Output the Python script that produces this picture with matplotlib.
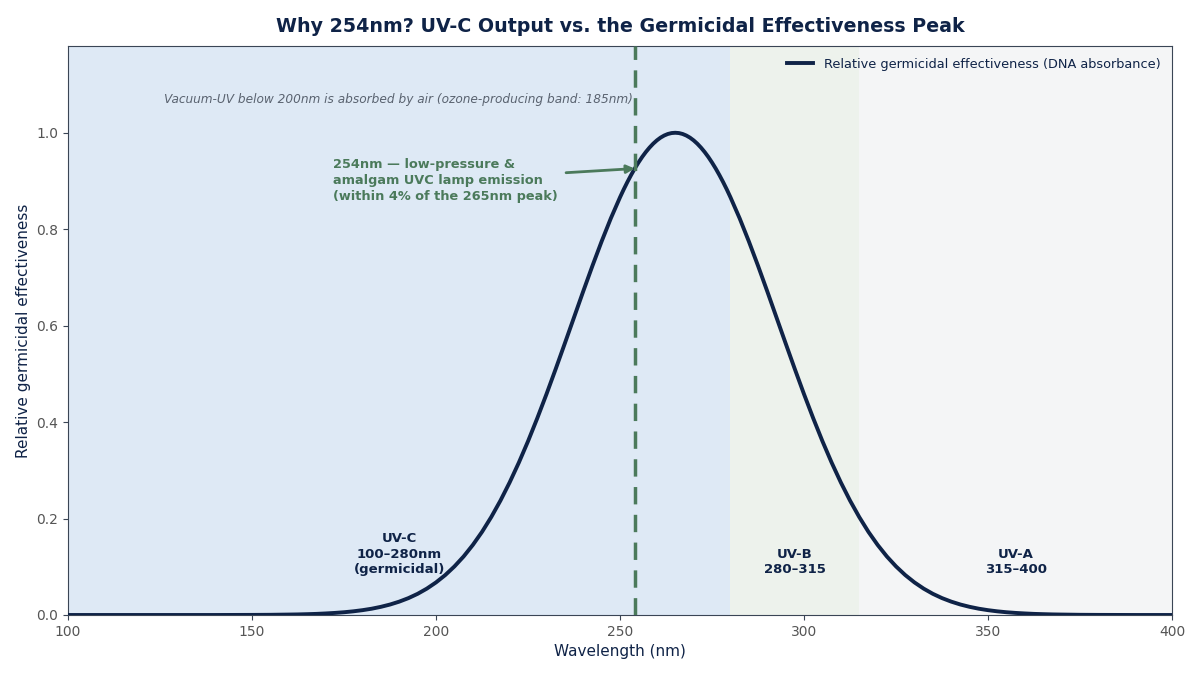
import matplotlib

matplotlib.use("Agg")
import matplotlib.pyplot as plt  # noqa: E402

# wavelength grid (nm) and relative germicidal effectiveness
# (finer steps around the peak so the curve stays smooth)
wavelength = [
    100, 105, 110, 115, 120, 125, 130, 135, 140, 145, 150, 155, 160,
    162.5, 165, 167.5, 170, 172.5, 175, 177.5, 180, 182.5, 185, 187.5, 190,
    192.5, 195, 197.5, 200, 202.5, 205, 207.5, 210, 212.5, 215, 217.5, 220,
    222.5, 225, 227.5, 230, 232.5, 235, 237.5, 240, 242.5, 245, 247.5,
    250, 251, 252, 253, 254, 255, 256, 257, 258, 259, 260, 261, 262, 263,
    264, 265, 266, 267, 268, 269, 270, 271, 272, 273, 274, 275, 276, 277,
    278, 279, 280,
    282.5, 285, 287.5, 290, 292.5, 295, 297.5, 300, 302.5, 305, 307.5, 310,
    312.5, 315, 317.5, 320, 322.5, 325, 327.5, 330, 332.5, 335, 337.5, 340,
    342.5, 345, 347.5, 350, 352.5, 355, 357.5, 360, 362.5, 365, 367.5, 370,
    375, 380, 385, 390, 395, 400,
]
effectiveness = [
    0.0, 0.0, 0.0, 0.0, 0.0, 0.0, 0.0, 0.0, 0.0, 0.0001, 0.0002, 0.0004, 0.0009,
    0.0012, 0.0017, 0.0023, 0.0032, 0.0043, 0.0057, 0.0076, 0.0100, 0.0130,
    0.0169, 0.0217, 0.0277, 0.0350, 0.0439, 0.0547, 0.0676, 0.0828, 0.1007,
    0.1214, 0.1453, 0.1724, 0.2031, 0.2372, 0.2749, 0.3160, 0.3604, 0.4079,
    0.4578, 0.5099, 0.5633, 0.6173, 0.6713, 0.7241, 0.7748, 0.8226,
    0.8663, 0.8826, 0.8979, 0.9123, 0.9258, 0.9382, 0.9497, 0.9600, 0.9692,
    0.9773, 0.9842, 0.9899, 0.9943, 0.9975, 0.9994, 1.0, 0.9994, 0.9975,
    0.9943, 0.9899, 0.9842, 0.9773, 0.9692, 0.9600, 0.9497, 0.9382, 0.9258,
    0.9123, 0.8979, 0.8826, 0.8663,
    0.8226, 0.7748, 0.7241, 0.6713, 0.6173, 0.5633, 0.5099, 0.4578, 0.4079,
    0.3604, 0.3160, 0.2749, 0.2372, 0.2031, 0.1724, 0.1453, 0.1214, 0.1007,
    0.0828, 0.0676, 0.0547, 0.0439, 0.0350, 0.0277, 0.0217, 0.0169, 0.0130,
    0.0100, 0.0076, 0.0057, 0.0043, 0.0032, 0.0023, 0.0017, 0.0012, 0.0009,
    0.0004, 0.0002, 0.0001, 0.0, 0.0, 0.0,
]

band_ranges = [(100, 280), (280, 315), (315, 400)]
band_labels = ["UV-C\n100–280nm\n(germicidal)", "UV-B\n280–315", "UV-A\n315–400"]
band_colors = ["#dee9f5", "#edf2ec", "#f4f5f6"]

lamp_nm = 254
lamp_value = 0.9258

NAVY = "#0f2347"
GREEN = "#4b7a5b"

fig = plt.figure(figsize=(12, 6.75), dpi=100)
ax = fig.add_axes([0.0567, 0.0889, 0.92, 0.843])

for (lo, hi), col in zip(band_ranges, band_colors):
    ax.axvspan(lo, hi, color=col, lw=0, zorder=0)

for (lo, hi), lab in zip(band_ranges, band_labels):
    ax.text((lo + hi) / 2, 0.08, lab, ha="center", va="bottom", fontsize=9.5,
            fontweight="bold", color=NAVY, linespacing=1.25, zorder=3)

ax.plot(wavelength, effectiveness, color=NAVY, lw=2.8, zorder=4,
        label="Relative germicidal effectiveness (DNA absorbance)")

ax.axvline(lamp_nm, color=GREEN, lw=2.5, ls=(0, (5, 3)), zorder=5)

ax.annotate(
    "254nm — low-pressure &\namalgam UVC lamp emission\n(within 4% of the 265nm peak)",
    xy=(lamp_nm, lamp_value), xytext=(172, 0.902),
    ha="left", va="center", fontsize=9.3, fontweight="bold", color=GREEN,
    linespacing=1.3,
    arrowprops=dict(arrowstyle="-|>", color=GREEN, lw=2, mutation_scale=12,
                    shrinkA=4, shrinkB=0),
    zorder=6,
)

ax.text(253.5, 1.068,
        "Vacuum-UV below 200nm is absorbed by air (ozone-producing band: 185nm)",
        ha="right", va="center", fontsize=8.75, style="italic", color="#5a6370")

ax.set_xlim(100, 400)
ax.set_ylim(0, 1.18)
ax.set_xticks([100, 150, 200, 250, 300, 350, 400])
ax.set_yticks([0.0, 0.2, 0.4, 0.6, 0.8, 1.0])
ax.tick_params(colors="#3a4555", labelcolor="#555555", labelsize=10)
for s in ax.spines.values():
    s.set_color("#3a4555")

ax.set_xlabel("Wavelength (nm)", fontsize=11, color=NAVY)
ax.set_ylabel("Relative germicidal effectiveness", fontsize=11, color=NAVY)
ax.set_title("Why 254nm? UV-C Output vs. the Germicidal Effectiveness Peak",
             fontsize=13.7, fontweight="bold", color=NAVY, pad=10)

leg = ax.legend(loc="upper right", frameon=False, fontsize=9.3)
for t in leg.get_texts():
    t.set_color(NAVY)

fig.savefig("out.png", dpi=100)
